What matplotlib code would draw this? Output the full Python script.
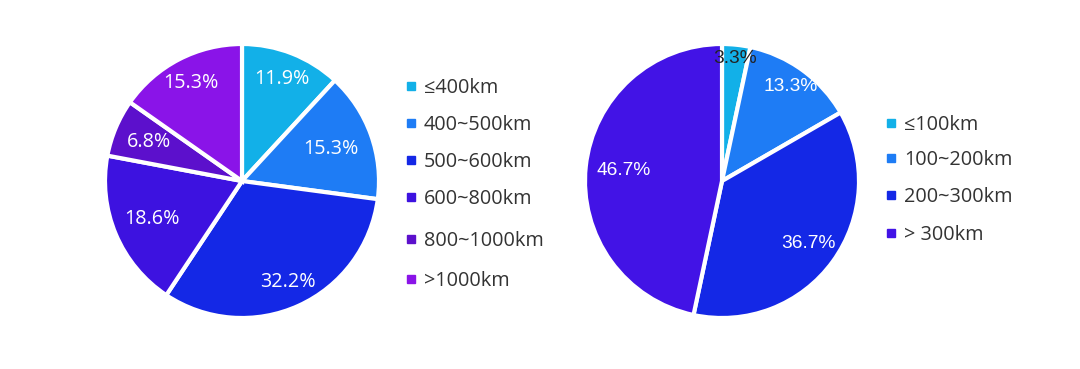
import matplotlib
matplotlib.use("Agg")
import matplotlib.pyplot as plt

plt.rcParams['font.family'] = ['Open Sans', 'DejaVu Sans']

left_labels = ["≤400km", "400~500km", "500~600km", "600~800km", "800~1000km", ">1000km"]
left_counts = [7, 9, 19, 11, 4, 9]
left_colors = ["#12b0e8", "#1e7cf5", "#1428e6", "#3d12e0", "#5c10cc", "#8a14e8"]
left_label_r = [0.80, 0.69, 0.81, 0.71, 0.74, 0.81]

right_labels = ["≤100km", "100~200km", "200~300km", "> 300km"]
right_counts = [1, 4, 11, 14]
right_colors = ["#12b0e8", "#1e7cf5", "#1428e6", "#4213e6"]
right_label_r = [0.90, 0.85, 0.78, 0.72]

W, H = 1080, 369
fig = plt.figure(figsize=(W / 100, H / 100), dpi=100)


def px_axes(cx, cy, r):
    return fig.add_axes([(cx - r) / W, 1 - (cy + r) / H, 2 * r / W, 2 * r / H])


def draw_pie(ax, counts, colors, radii, family, size):
    wedges, texts, autotexts = ax.pie(
        counts, colors=colors, startangle=90, counterclock=False,
        autopct="%.1f%%", pctdistance=0.8,
        wedgeprops=dict(edgecolor="white", linewidth=3),
        textprops=dict(color="white", fontsize=size, family=family))
    for t, c, r in zip(autotexts, counts, radii):
        x, y = t.get_position()
        t.set_position((x * r / 0.8, y * r / 0.8))
        if c / sum(counts) < 0.05:
            t.set_color("#222222")
    ax.set_xlim(-1, 1)
    ax.set_ylim(-1, 1)
    ax.set_aspect("equal")
    ax.axis("off")


ax1 = px_axes(242, 181, 137)
draw_pie(ax1, left_counts, left_colors, left_label_r, ['Open Sans', 'DejaVu Sans'], 14.2)
ax2 = px_axes(722, 181, 137)
draw_pie(ax2, right_counts, right_colors, right_label_r, ['Liberation Sans', 'DejaVu Sans'], 13.8)


def legend(x, ys, labels, colors):
    for y, lab, col in zip(ys, labels, colors):
        fig.patches.append(plt.Rectangle(((x - 4) / W, 1 - (y + 4) / H), 8 / W, 8 / H,
                                         transform=fig.transFigure, color=col, figure=fig))
        fig.text((x + 13) / W, 1 - (y + 2) / H, lab, fontsize=14.3, color="#333333",
                 va="center", ha="left")


legend(411, [86, 123, 160, 197, 239, 279], left_labels, left_colors)
legend(891, [123, 158, 195, 233], right_labels, right_colors)

fig.savefig("out.png", dpi=100, facecolor="white")
